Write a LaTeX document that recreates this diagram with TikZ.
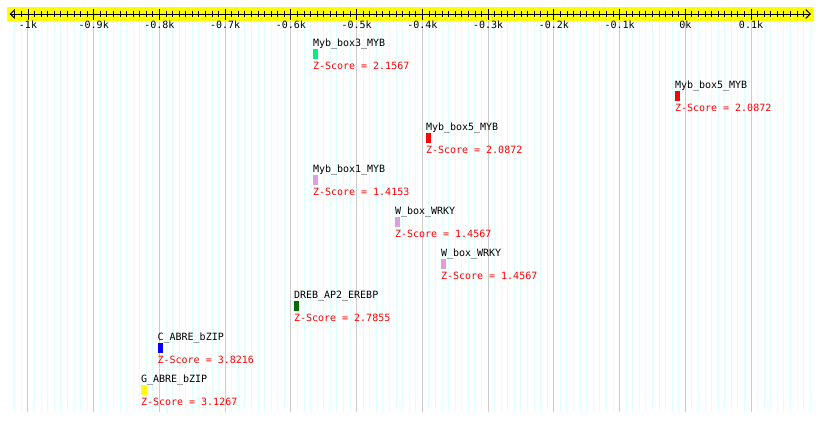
\documentclass[tikz,border=0pt]{standalone}
\usepackage{fontspec}
\newfontfamily\pixfont{DejaVu Sans Mono}
\definecolor{gridminor}{RGB}{224,255,255}
\definecolor{gridmajor}{RGB}{204,204,204}
\definecolor{bandyellow}{RGB}{255,255,0}
\definecolor{mybgreen}{RGB}{0,240,128}
\definecolor{plumbar}{RGB}{221,160,221}
\definecolor{dregreen}{RGB}{0,110,0}
\definecolor{zred}{RGB}{255,0,0}
\definecolor{abreblue}{RGB}{0,0,255}
\definecolor{abreyellow}{RGB}{255,255,0}
\begin{document}
\begin{tikzpicture}[x=1pt,y=-1pt,
  txt/.style={font=\pixfont\fontsize{10}{11}\selectfont, inner sep=0pt, outer sep=0pt},
  lbl/.style={txt, anchor=base west},
  zlbl/.style={lbl, text=zred},
  ticklbl/.style={txt, anchor=base},
  bar/.style={inner sep=0pt, outer sep=0pt, minimum height=10pt, anchor=north west, fill=#1},
  gridline/.style={line width=1pt, draw=#1},
  tickmark/.style={line width=0.9pt, draw=black}]
\useasboundingbox (0,0) rectangle (820,421);
\fill[white] (0,0) rectangle (820,421);
% grid
\foreach \v in {-1020,-1010,...,190} {
  \draw[gridline=gridminor] ({685.3+0.6573*\v},20.5) -- ({685.3+0.6573*\v},412);
}
\foreach \v in {-1000,-900,...,100} {
  \draw[gridline=gridmajor] ({685.3+0.6573*\v},20.5) -- ({685.3+0.6573*\v},412);
}
% ruler band
\fill[bandyellow] (7,7) rectangle (814,20.5);
\coordinate (axL) at (10.3,14);
\coordinate (axR) at (810.3,14);
\coordinate (axLa) at (14.9,9.6);
\coordinate (axLb) at (14.9,18.4);
\coordinate (axRa) at (805.7,9.6);
\coordinate (axRb) at (805.7,18.4);
\draw[line width=1pt] (axL) -- (axR);
\draw[line width=1pt] (axLa) -- (axL) -- (axLb);
\draw[line width=1pt] (axRa) -- (axR) -- (axRb);
\foreach \v in {-1020,-1010,...,180} {
  \draw[tickmark] ({685.3+0.6573*\v},11) -- ({685.3+0.6573*\v},17);
}
\foreach \v/\t in {-1000/-1k,-900/-0.9k,-800/-0.8k,-700/-0.7k,-600/-0.6k,-500/-0.5k,-400/-0.4k,-300/-0.3k,-200/-0.2k,-100/-0.1k,0/0k,100/0.1k} {
  \draw[tickmark] ({685.3+0.6573*\v},8.5) -- ({685.3+0.6573*\v},19.5);
  \node[ticklbl] (t\v) at ({685.3+0.6573*\v},28.8) {\t};
}
% features
\foreach \i/\x/\w/\c/\name/\z in {
  0/313/5/mybgreen/Myb\_box3\_MYB/2.1567,
  1/675/5/zred/Myb\_box5\_MYB/2.0872,
  2/426/5/zred/Myb\_box5\_MYB/2.0872,
  3/313/5/plumbar/Myb\_box1\_MYB/1.4153,
  4/395/5/plumbar/W\_box\_WRKY/1.4567,
  5/441/5/plumbar/W\_box\_WRKY/1.4567,
  6/294/5/dregreen/DREB\_AP2\_EREBP/2.7855,
  7/157.6/5/abreblue/C\_ABRE\_bZIP/3.8216,
  8/141/6/abreyellow/G\_ABRE\_bZIP/3.1267} {
  \node[bar=\c, minimum width=\w pt] (b\i) at (\x,{49+42*\i}) {};
  \node[lbl] (l\i) at ([yshift=3pt]b\i.north west) {\name};
  \node[zlbl] (z\i) at ([yshift=-10pt]b\i.south west) {Z-Score = \z};
}
\end{tikzpicture}
\end{document}
